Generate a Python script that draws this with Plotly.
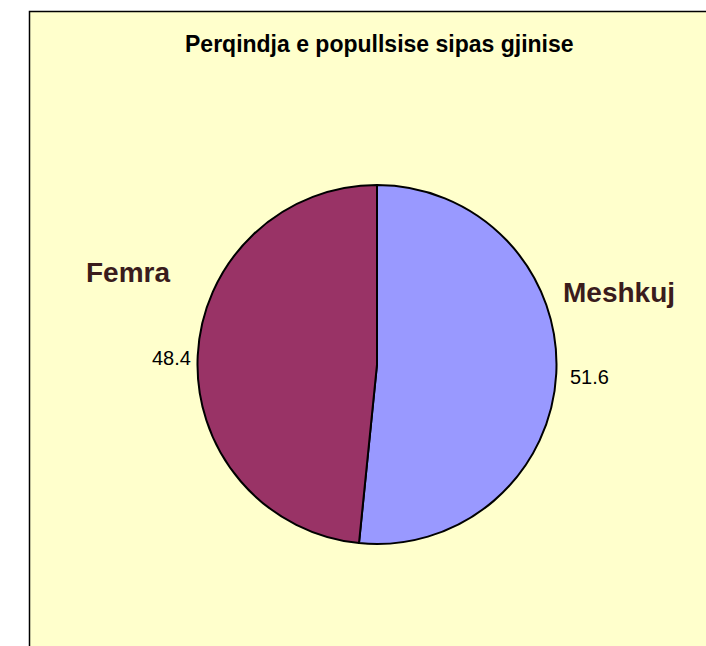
import plotly.graph_objects as go

W, H = 706, 646

categories = ["Meshkuj", "Femra"]
values = [51.6, 48.4]
colors = ["#9999FF", "#993366"]
title_text = "Perqindja e popullsise sipas gjinise"

def px(x):
    return x / W

def py(y):
    return 1 - y / H

FONT = "Arial, Liberation Sans, sans-serif"
LABEL_COLOR = "#3a1c1c"

fig = go.Figure()
fig.add_trace(go.Pie(
    labels=categories,
    values=values,
    marker=dict(colors=colors, line=dict(color="black", width=2)),
    sort=False,
    direction="clockwise",
    rotation=0,
    textinfo="none",
    hoverinfo="label+value",
    showlegend=False,
    domain=dict(x=[px(197), px(557)], y=[py(544), py(185)]),
))

# category label and value positions (pixel centres)
label_pos = {"Meshkuj": (619, 292), "Femra": (128, 272)}
value_pos = {"Meshkuj": (589, 377), "Femra": (171, 358)}

annotations = [dict(
    text=f"<b>{title_text}</b>", x=px(380), y=py(44), xref="paper", yref="paper",
    showarrow=False, xanchor="center", yanchor="middle",
    font=dict(family=FONT, size=23, color="black"))]
for cat, val in zip(categories, values):
    lx, ly = label_pos[cat]
    vx, vy = value_pos[cat]
    annotations.append(dict(
        text=f"<b>{cat}</b>", x=px(lx), y=py(ly), xref="paper", yref="paper",
        showarrow=False, xanchor="center", yanchor="middle",
        font=dict(family=FONT, size=28, color=LABEL_COLOR)))
    annotations.append(dict(
        text=f"{val:.1f}", x=px(vx), y=py(vy), xref="paper", yref="paper",
        showarrow=False, xanchor="center", yanchor="middle",
        font=dict(family=FONT, size=20, color="black")))

fig.update_layout(
    width=W, height=H,
    margin=dict(l=0, r=0, t=0, b=0),
    paper_bgcolor="white",
    plot_bgcolor="white",
    annotations=annotations,
    shapes=[dict(
        type="rect", xref="paper", yref="paper", layer="below",
        x0=px(29.5), x1=px(730), y0=py(680), y1=py(11.5),
        fillcolor="#FFFFCC", line=dict(color="black", width=1.5))],
)

fig.write_html(
    "out.html",
    config={"displayModeBar": False},
    post_script="document.body.style.margin='0';document.body.style.overflow='hidden';",
)
